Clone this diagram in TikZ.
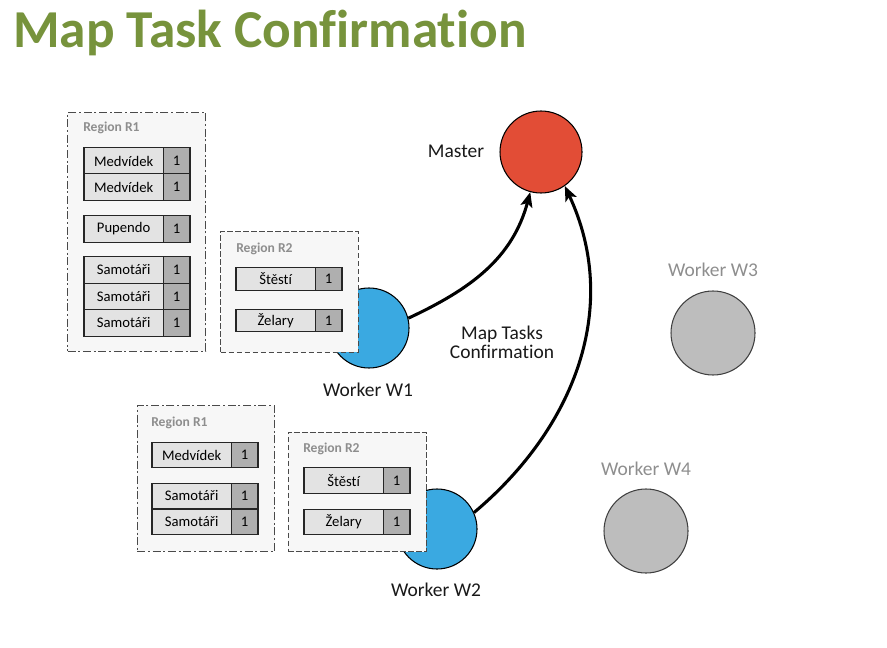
\documentclass[tikz,border=0pt]{standalone}
\usepackage{fontspec}
\setmainfont{Carlito}[Ligatures={NoCommon}]
\usepackage{tikz}
\usetikzlibrary{arrows.meta, positioning}
\definecolor{titlegreen}{HTML}{77933C}
\definecolor{masterred}{HTML}{E24D36}
\definecolor{workerblue}{HTML}{3AA9E1}
\definecolor{idlegray}{HTML}{BDBDBD}
\definecolor{labelgray}{HTML}{8E8E8E}
\definecolor{cellgray}{HTML}{E3E3E3}
\definecolor{countgray}{HTML}{AFAFAF}
\definecolor{regionfill}{HTML}{F7F7F7}
\definecolor{edgegray}{HTML}{4A4A4A}

\begin{document}
\begin{tikzpicture}[x=0.75pt, y=-0.75pt,
    mastercirc/.style={circle, draw=black, line width=0.8pt, fill=masterred, minimum size=61.5pt, inner sep=0pt},
    workercirc/.style={circle, draw=black, line width=0.8pt, fill=workerblue, minimum size=60pt, inner sep=0pt},
    idlecirc/.style={circle, draw=black!75, line width=0.8pt, fill=idlegray, minimum size=63pt, inner sep=0pt},
    namelabel/.style={font=\fontsize{14.6}{16}\selectfont, text=black!90},
    idlelabel/.style={font=\fontsize{14.6}{16}\selectfont, text=labelgray},
    regionR1/.style={draw=edgegray, line width=0.9pt, fill=regionfill, dash pattern=on 6pt off 2pt on 1.5pt off 2pt, anchor=north west, inner sep=0pt},
    regionR2/.style={draw=edgegray, line width=0.9pt, fill=regionfill, dash pattern=on 4pt off 2pt, anchor=north west, inner sep=0pt},
    regionlabel/.style={font=\fontsize{10.2}{12}\selectfont\bfseries, text=labelgray, anchor=west, inner sep=0pt},
    namecell/.style={draw=black!85, line width=0.8pt, fill=cellgray, minimum width=59.5pt, anchor=west, inner sep=0pt, outer sep=0pt, font=\fontsize{11}{12}\selectfont},
    countcell/.style={draw=black!85, line width=0.8pt, fill=countgray, minimum width=20pt, inner sep=0pt, outer sep=0pt, font=\fontsize{11}{12}\selectfont},
    confirm/.style={line width=2.3pt, -{Stealth[length=11pt, width=9pt, inset=2.5pt]}},
]
\useasboundingbox (0,0) rectangle (887,648);

% Title
\node[anchor=base west, inner sep=0pt, font=\fontsize{40}{44}\selectfont\bfseries, text=titlegreen] (title) at (13,48) {Map Task Confirmation};

% Master and workers
\node[mastercirc] (master) at (541,152) {};
\node[namelabel] (masterlbl) at (456,151) {Master};

\node[workercirc] (w1) at (369,328) {};
\node[namelabel] (w1lbl) at (368,390) {Worker W1};
\node[workercirc] (w2) at (437,529) {};
\node[namelabel] (w2lbl) at (436,590) {Worker W2};

\node[idlecirc] (w3) at (713,333) {};
\node[idlelabel] (w3lbl) at (713,270) {Worker W3};
\node[idlecirc] (w4) at (646,531) {};
\node[idlelabel] (w4lbl) at (646,469) {Worker W4};

% Regions of worker W1
\node[regionR1, minimum width=103.5pt, minimum height=179pt] (w1r1) at (67,112) {};
\node[regionlabel] (w1r1lbl) at (83,128) {Region R1};
\foreach \txt/\yy [count=\i] in {Medvídek/161, Medvídek/187, Pupendo/229, Samotáři/270, Samotáři/297, Samotáři/323} {
  \node[namecell, minimum height=19.9pt] (ta\i) at (84,\yy) {\txt};
  \node[countcell, minimum height=19.9pt, right=0pt of ta\i] (ta\i n) {1};
}

\node[regionR2, minimum width=103.3pt, minimum height=90.5pt] (w1r2) at (220,231) {};
\node[regionlabel] (w1r2lbl) at (236,249) {Region R2};
\foreach \txt/\yy [count=\i] in {Štěstí/279, Želary/320.5} {
  \node[namecell, minimum height=16.8pt] (tb\i) at (236,\yy) {\txt};
  \node[countcell, minimum height=16.8pt, right=0pt of tb\i] (tb\i n) {1};
}

% Regions of worker W2
\node[regionR1, minimum width=103pt, minimum height=109.3pt] (w2r1) at (136.7,405) {};
\node[regionlabel] (w2r1lbl) at (151,423) {Region R1};
\foreach \txt/\yy [count=\i] in {Medvídek/455, Samotáři/496, Samotáři/522} {
  \node[namecell, minimum height=19.2pt] (tc\i) at (152,\yy) {\txt};
  \node[countcell, minimum height=19.2pt, right=0pt of tc\i] (tc\i n) {1};
}

\node[regionR2, minimum width=103.5pt, minimum height=89.5pt] (w2r2) at (287.7,431.7) {};
\node[regionlabel] (w2r2lbl) at (303,449) {Region R2};
\foreach \txt/\yy [count=\i] in {Štěstí/480.5, Želary/522} {
  \node[namecell, minimum height=19.2pt] (td\i) at (304,\yy) {\txt};
  \node[countcell, minimum height=19.2pt, right=0pt of td\i] (td\i n) {1};
}

% Confirmations
\draw[confirm] (w1.14) to[out=25, in=-105] (master.-105);
\draw[confirm] (w2.24) to[out=40, in=-65] (master.-55);
\node[namelabel, align=center, font=\fontsize{14.6}{14}\selectfont] (conflbl) at (502,342) {Map Tasks\\Confirmation};

\end{tikzpicture}
\end{document}
